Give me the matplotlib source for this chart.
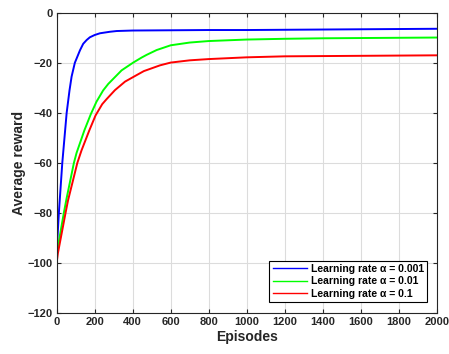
import matplotlib
matplotlib.use("Agg")
import matplotlib.pyplot as plt

plt.rcParams['font.family'] = ['Liberation Sans', 'DejaVu Sans']

# values (episode, average reward)
blue_ep = [0, 3, 12, 30, 53, 68, 79, 96, 123, 140, 158, 175, 200, 228, 280, 316, 400,
           600, 800, 1000, 1200, 1400, 1600, 1800, 2000]
blue_val = [-100, -92, -80, -60, -40, -31, -25.5, -20, -15, -12.4, -10.9, -9.8, -8.9, -8.2, -7.6, -7.3, -7.1,
            -7.0, -6.9, -6.9, -6.8, -6.7, -6.6, -6.5, -6.4]

green_ep = [0, 7, 38, 53, 91, 105, 146, 180, 210, 245, 272, 342, 403, 447, 474, 526, 600,
            700, 800, 1000, 1200, 1400, 1600, 1800, 2000]
green_val = [-97, -93.5, -80, -74, -60, -56, -47, -40.5, -35.5, -31, -28.4, -23, -19.9, -17.9, -16.8, -14.9, -13.0,
             -11.9, -11.3, -10.7, -10.4, -10.2, -10.1, -10.0, -9.9]

red_ep = [0, 7, 47, 60, 109, 131, 172, 205, 240, 263, 307, 360, 421, 459, 544, 600,
          700, 800, 1000, 1200, 1400, 1600, 1800, 2000]
red_val = [-100, -96, -80, -75, -60, -55, -47, -41, -36.5, -34.5, -30.9, -27.5, -24.9, -23.3, -21.0, -19.9,
           -19.0, -18.5, -17.8, -17.4, -17.3, -17.2, -17.1, -17.0]

labels = ['Learning rate α = 0.001', 'Learning rate α = 0.01', 'Learning rate α = 0.1']
x_ticks = list(range(0, 2001, 200))
y_ticks = list(range(-120, 1, 20))

fig = plt.figure(figsize=(4.49, 3.54), dpi=100)
ax = fig.add_axes([0.126, 0.115, 0.847, 0.849])

ax.plot(blue_ep, blue_val, color='#0000ff', lw=1.4, label=labels[0])
ax.plot(green_ep, green_val, color='#00ff00', lw=1.4, label=labels[1])
ax.plot(red_ep, red_val, color='#ff0000', lw=1.4, label=labels[2])

ax.set_xlim(0, 2000)
ax.set_ylim(-120, 0)
ax.set_xticks(x_ticks)
ax.set_yticks(y_ticks)
ax.grid(True, color='#dcdcdc', lw=0.8)
ax.set_axisbelow(True)

ax.tick_params(direction='in', top=True, right=True, length=3, width=0.8,
               color='#262626', labelsize=8, labelcolor='#262626', pad=3)
for lab in ax.get_xticklabels() + ax.get_yticklabels():
    lab.set_fontweight('bold')
for sp in ax.spines.values():
    sp.set_color('#262626')
    sp.set_linewidth(0.8)

ax.set_xlabel('Episodes', fontsize=10, fontweight='bold', color='#262626', labelpad=2)
ax.set_ylabel('Average reward', fontsize=10, fontweight='bold', color='#262626', labelpad=1)

leg = ax.legend(loc='lower right', bbox_to_anchor=(0.975, 0.037), borderaxespad=0,
                fancybox=False, framealpha=1, edgecolor='black',
                prop={'size': 7.5, 'weight': 'bold'}, handlelength=3.3,
                handletextpad=0.4, labelspacing=0.25, borderpad=0.3)
leg.get_frame().set_linewidth(0.8)
for line in leg.get_lines():
    line.set_linewidth(1.0)

fig.savefig('out.png', dpi=100)
